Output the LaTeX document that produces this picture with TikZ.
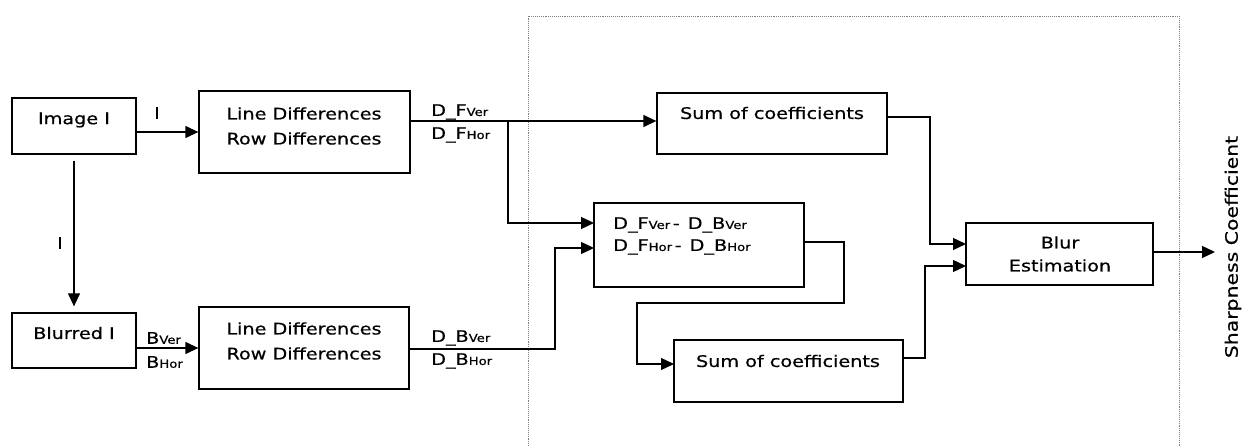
\documentclass[tikz,border=0pt]{standalone}
\usepackage{fontspec}
\setmainfont[FakeStretch=1.2,FakeBold=0.6]{DejaVu Sans}
\usetikzlibrary{arrows.meta,calc}
\newcommand\mysub[1]{{\fontsize{11}{11}\selectfont #1}}
\begin{document}
\begin{tikzpicture}[x=1pt,y=-1pt,
  box/.style={draw,line width=1.3pt,rectangle,inner sep=0pt},
  txt/.style={inner sep=0pt,align=center,font=\fontsize{16}{25}\selectfont},
  lbl/.style={inner sep=0pt,font=\fontsize{16}{18}\selectfont},
  arr/.style={line width=1.3pt,-{Triangle[length=13pt,width=12pt]}},
  ln/.style={line width=1.3pt}]
\useasboundingbox (0,0) rectangle (1243,446);
% dotted frame
\draw[densely dotted,line width=0.9pt,gray] (528,446) -- (528,16) -- (1179,16) -- (1179,446);
% boxes
\node[box,minimum width=124pt,minimum height=56pt] (img) at (74,126) {};
\node[box,minimum width=124pt,minimum height=55pt] (blr) at (74,340.5) {};
\node[box,minimum width=211pt,minimum height=82pt] (ld1) at (304.5,132) {};
\node[box,minimum width=210pt,minimum height=82pt] (ld2) at (304,348) {};
\node[box,minimum width=230pt,minimum height=61pt] (sum1) at (772,123.5) {};
\node[box,minimum width=210pt,minimum height=84pt] (diff) at (699,245) {};
\node[box,minimum width=229pt,minimum height=62pt] (sum2) at (788.5,371) {};
\node[box,minimum width=187pt,minimum height=62pt] (blur) at (1059.5,254) {};
% texts
\node[txt] (imgt) at (74,120) {Image I};
\node[txt] (blrt) at (74,333) {Blurred I};
\node[txt] (ld1t) at (304,126) {Line Differences\\Row Differences};
\node[txt] (ld2t) at (304,341) {Line Differences\\Row Differences};
\node[txt] (sum1t) at (772,113) {Sum of coefficients};
\node[txt] (sum2t) at (788,361) {Sum of coefficients};
\node[txt,font=\fontsize{16}{23}\selectfont] (blurt) at (1060,254) {Blur\\Estimation};
\node[txt,align=left,anchor=west,font=\fontsize{16}{22}\selectfont] (difft) at (613,236)
  {D\_F\mysub{Ver}\,-\enspace D\_B\mysub{Ver}\\D\_F\mysub{Hor}\,-\enspace D\_B\mysub{Hor}};
\node[lbl,rotate=90,font=\fontsize{17}{18}\selectfont] (sc) at (1233,247) {Sharpness Coefficient};
% coordinates
\coordinate (j1) at (508,121);
\coordinate (j2) at (555,349);
\coordinate (din1) at (594,223);
\coordinate (din2) at (594,248);
\coordinate (k1) at (844,242);
\coordinate (k2) at (637,303);
\coordinate (s2in) at (674,364);
\coordinate (m1) at (930,117);
\coordinate (m2) at (925,358);
\coordinate (bin1) at (966,244);
\coordinate (bin2) at (966,266);
\coordinate (out) at (1215,252);
% connectors
\draw[arr] (img.east |- ld1.west) -- (ld1.west);
\node[lbl] (li) at (157,113) {I};
\draw[arr,shorten <=6pt,shorten >=6pt] (img.south) -- (blr.north);
\node[lbl] (lv) at (60,243) {I};
\draw[arr] (blr.east |- ld2.west) -- (ld2.west);
\node[lbl,anchor=west] (bv) at (146,338) {B\mysub{Ver}};
\node[lbl,anchor=west] (bh) at (146,362) {B\mysub{Hor}};
\draw[arr] (ld1.east |- j1) -- (sum1.west |- j1);
\draw[arr] (j1) |- (din1);
\node[lbl,anchor=west] (dfv) at (431,112) {D\_F\mysub{Ver}};
\node[lbl,anchor=west] (dfh) at (431,135) {D\_F\mysub{Hor}};
\draw[arr] (ld2.east |- j2) -- (j2) |- (din2);
\node[lbl,anchor=west] (dbv) at (431,338) {D\_B\mysub{Ver}};
\node[lbl,anchor=west] (dbh) at (431,361) {D\_B\mysub{Hor}};
\draw[arr] (diff.east |- k1) -- (k1) |- (k2) |- (s2in);
\draw[arr] (sum1.east |- m1) -- (m1) |- (bin1);
\draw[arr] (sum2.east |- m2) -- (m2) |- (bin2);
\draw[arr] (blur.east |- out) -- (out);
\end{tikzpicture}
\end{document}
